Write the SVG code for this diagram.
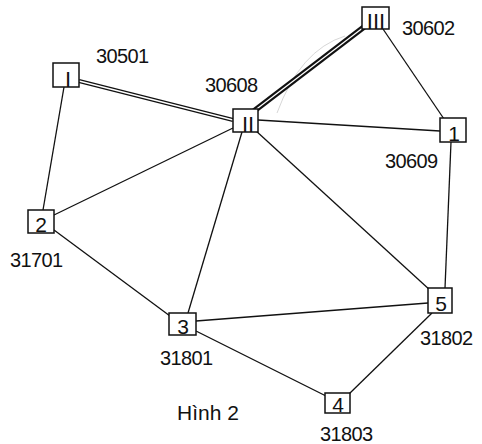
<svg xmlns="http://www.w3.org/2000/svg" width="482" height="444" viewBox="0 0 482 444">
<style>
.e{stroke:#111;stroke-width:1.3;fill:none}
.box{fill:#fff;stroke:#111;stroke-width:1.5}
.num{font-family:"Liberation Sans",Arial,sans-serif;font-size:21px;fill:#111;text-anchor:middle}
.rom{font-family:"Liberation Sans",Arial,sans-serif;font-size:22px;fill:#111;text-anchor:middle}
.lbl{font-family:"Liberation Sans",Arial,sans-serif;font-size:20px;fill:#111;letter-spacing:-0.6px}
</style>
<rect width="482" height="444" fill="#fff"/>
<g id="connectors">
<path d="M277,113 Q300,50 345,36" stroke="#ccc" stroke-width="0.8" fill="none"/>
<line class="e" x1="64" y1="87" x2="43" y2="210"/>
<line class="e" x1="54" y1="215" x2="233" y2="128"/>
<line class="e" x1="54" y1="230" x2="170" y2="316"/>
<line class="e" x1="242" y1="132" x2="188" y2="313"/>
<line class="e" x1="255" y1="130" x2="431" y2="291"/>
<line class="e" x1="258" y1="120" x2="440" y2="131"/>
<line class="e" x1="383" y1="29" x2="444" y2="119"/>
<line class="e" x1="451" y1="142" x2="445" y2="288"/>
<line class="e" x1="196" y1="321" x2="428" y2="303"/>
<line class="e" x1="196" y1="331" x2="326" y2="396"/>
<line class="e" x1="432" y1="313" x2="349" y2="394"/>
<line x1="79" y1="81" x2="233" y2="120" stroke="#111" stroke-width="4.2"/>
<line x1="79" y1="81" x2="233" y2="120" stroke="#fff" stroke-width="1.4"/>
<line x1="254" y1="111" x2="364" y2="27" stroke="#111" stroke-width="5.5"/>
<line x1="254" y1="111" x2="364" y2="27" stroke="#fff" stroke-width="1.3"/>
</g>
<g id="node-I"><rect class="box" x="53" y="63" width="26" height="24"/><text class="rom" x="68" y="87">I</text></g>
<g id="node-II"><rect class="box" x="233" y="109" width="25" height="23"/><text class="rom" x="248" y="132">II</text></g>
<g id="node-III"><rect class="box" x="362" y="7" width="27" height="22"/><text class="rom" x="376" y="29">III</text></g>
<g id="node-1"><rect class="box" x="440" y="118" width="26" height="24"/><text class="num" x="454" y="141">1</text></g>
<g id="node-2"><rect class="box" x="28" y="210" width="26" height="23"/><text class="num" x="41" y="232">2</text></g>
<g id="node-3"><rect class="box" x="169" y="313" width="27" height="22"/><text class="num" x="183" y="334">3</text></g>
<g id="node-4"><rect class="box" x="325" y="393" width="25" height="20"/><text class="num" x="338" y="412">4</text></g>
<g id="node-5"><rect class="box" x="428" y="288" width="24" height="25"/><text class="num" x="441" y="311">5</text></g>
<g id="labels">
<text class="lbl" x="96" y="63">30501</text>
<text class="lbl" x="402" y="35">30602</text>
<text class="lbl" x="205" y="92">30608</text>
<text class="lbl" x="385" y="168">30609</text>
<text class="lbl" x="10" y="267">31701</text>
<text class="lbl" x="160" y="365">31801</text>
<text class="lbl" x="420" y="345">31802</text>
<text class="lbl" x="320" y="441">31803</text>
<text class="lbl" x="177" y="420" style="letter-spacing:0;font-size:21px">Hình 2</text>
</g>
</svg>
